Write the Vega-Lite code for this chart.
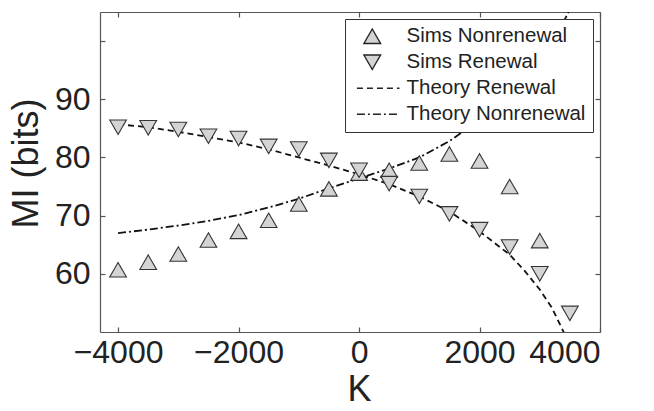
{
  "$schema": "https://vega.github.io/schema/vega-lite/v6.json",
  "width": 500,
  "height": 320,
  "autosize": "none",
  "padding": {"left": 100, "top": 12, "right": 54, "bottom": 79},
  "background": "white",
  "config": {
    "view": {"stroke": null},
    "font": "Liberation Sans",
    "axis": {"grid": false, "domainColor": "#555", "tickColor": "#555", "labelColor": "#222", "titleColor": "#222", "domainWidth": 1.2, "tickWidth": 1.2, "labelFont": "Liberation Sans", "titleFont": "Liberation Sans", "titleFontWeight": "normal"},
    "legend": {"symbolFillColor": "#d4d4d4", "symbolStrokeColor": "#222", "labelLimit": 400}
  },
  "datasets": {
    "sims": [
      {"K": -4000, "MI": 60.7, "series": "Sims Nonrenewal"},
      {"K": -3500, "MI": 62.0, "series": "Sims Nonrenewal"},
      {"K": -3000, "MI": 63.4, "series": "Sims Nonrenewal"},
      {"K": -2500, "MI": 65.8, "series": "Sims Nonrenewal"},
      {"K": -2000, "MI": 67.3, "series": "Sims Nonrenewal"},
      {"K": -1500, "MI": 69.2, "series": "Sims Nonrenewal"},
      {"K": -1000, "MI": 72.0, "series": "Sims Nonrenewal"},
      {"K": -500, "MI": 74.6, "series": "Sims Nonrenewal"},
      {"K": 0, "MI": 77.3, "series": "Sims Nonrenewal"},
      {"K": 500, "MI": 77.8, "series": "Sims Nonrenewal"},
      {"K": 1000, "MI": 79.05, "series": "Sims Nonrenewal"},
      {"K": 1500, "MI": 80.6, "series": "Sims Nonrenewal"},
      {"K": 2000, "MI": 79.4, "series": "Sims Nonrenewal"},
      {"K": 2500, "MI": 75.0, "series": "Sims Nonrenewal"},
      {"K": 3000, "MI": 65.7, "series": "Sims Nonrenewal"},
      {"K": -4000, "MI": 85.2, "series": "Sims Renewal"},
      {"K": -3500, "MI": 85.1, "series": "Sims Renewal"},
      {"K": -3000, "MI": 84.8, "series": "Sims Renewal"},
      {"K": -2500, "MI": 83.65, "series": "Sims Renewal"},
      {"K": -2000, "MI": 83.25, "series": "Sims Renewal"},
      {"K": -1500, "MI": 81.9, "series": "Sims Renewal"},
      {"K": -1000, "MI": 81.45, "series": "Sims Renewal"},
      {"K": -500, "MI": 79.5, "series": "Sims Renewal"},
      {"K": 0, "MI": 77.8, "series": "Sims Renewal"},
      {"K": 500, "MI": 75.5, "series": "Sims Renewal"},
      {"K": 1000, "MI": 73.3, "series": "Sims Renewal"},
      {"K": 1500, "MI": 70.3, "series": "Sims Renewal"},
      {"K": 2000, "MI": 67.6, "series": "Sims Renewal"},
      {"K": 2500, "MI": 64.6, "series": "Sims Renewal"},
      {"K": 3000, "MI": 60.0, "series": "Sims Renewal"},
      {"K": 3500, "MI": 53.2, "series": "Sims Renewal"}
    ],
    "theory": [
      {"K": -4000, "MI": 85.7, "series": "Theory Renewal"},
      {"K": -3500, "MI": 85.2, "series": "Theory Renewal"},
      {"K": -3000, "MI": 84.4, "series": "Theory Renewal"},
      {"K": -2500, "MI": 83.5, "series": "Theory Renewal"},
      {"K": -2000, "MI": 82.6, "series": "Theory Renewal"},
      {"K": -1500, "MI": 81.4, "series": "Theory Renewal"},
      {"K": -1000, "MI": 80.0, "series": "Theory Renewal"},
      {"K": -500, "MI": 78.6, "series": "Theory Renewal"},
      {"K": 0, "MI": 77.1, "series": "Theory Renewal"},
      {"K": 500, "MI": 75.4, "series": "Theory Renewal"},
      {"K": 1000, "MI": 73.3, "series": "Theory Renewal"},
      {"K": 1500, "MI": 70.7, "series": "Theory Renewal"},
      {"K": 2000, "MI": 67.3, "series": "Theory Renewal"},
      {"K": 2500, "MI": 63.3, "series": "Theory Renewal"},
      {"K": 2750, "MI": 60.5, "series": "Theory Renewal"},
      {"K": 3000, "MI": 57.3, "series": "Theory Renewal"},
      {"K": 3200, "MI": 54.2, "series": "Theory Renewal"},
      {"K": 3420, "MI": 49.5, "series": "Theory Renewal"},
      {"K": -4000, "MI": 67.0, "series": "Theory Nonrenewal"},
      {"K": -3500, "MI": 67.6, "series": "Theory Nonrenewal"},
      {"K": -3000, "MI": 68.3, "series": "Theory Nonrenewal"},
      {"K": -2500, "MI": 69.1, "series": "Theory Nonrenewal"},
      {"K": -2000, "MI": 70.1, "series": "Theory Nonrenewal"},
      {"K": -1500, "MI": 71.4, "series": "Theory Nonrenewal"},
      {"K": -1000, "MI": 72.9, "series": "Theory Nonrenewal"},
      {"K": -500, "MI": 74.7, "series": "Theory Nonrenewal"},
      {"K": 0, "MI": 76.4, "series": "Theory Nonrenewal"},
      {"K": 500, "MI": 78.1, "series": "Theory Nonrenewal"},
      {"K": 1000, "MI": 80.0, "series": "Theory Nonrenewal"},
      {"K": 1500, "MI": 82.8, "series": "Theory Nonrenewal"},
      {"K": 1800, "MI": 85.0, "series": "Theory Nonrenewal"},
      {"K": 2000, "MI": 86.6, "series": "Theory Nonrenewal"},
      {"K": 2500, "MI": 90.8, "series": "Theory Nonrenewal"},
      {"K": 3000, "MI": 96.3, "series": "Theory Nonrenewal"},
      {"K": 3250, "MI": 100.2, "series": "Theory Nonrenewal"},
      {"K": 3500, "MI": 105.5, "series": "Theory Nonrenewal"}
    ]
  },
  "layer": [
    {
      "data": {"name": "theory"},
      "mark": {"type": "line", "strokeWidth": 1.8, "color": "#111", "clip": true},
      "encoding": {
        "x": {"field": "K", "type": "quantitative",
          "scale": {"domain": [-4300, 4000], "nice": false, "zero": false},
          "axis": {"orient": "bottom", "values": [-4000, -2000, 0, 2000, 4000], "format": "d", "labelFontSize": 32, "tickSize": -5, "labelPadding": 10, "title": "K", "titleFontSize": 36, "titleX": 259, "titleY": 68, "titleBaseline": "alphabetic", "titleAlign": "center", "titleAnchor": null}},
        "y": {"field": "MI", "type": "quantitative",
          "scale": {"domain": [50, 105], "nice": false, "zero": false},
          "axis": {"orient": "left", "values": [60, 70, 80, 90, 100], "labelExpr": "datum.value == 100 ? '' : datum.label", "labelFontSize": 32, "tickSize": -5, "labelPadding": 15, "title": "MI (bits)", "titleFontSize": 36, "titleAngle": -90, "titleX": -63, "titleY": 151, "titleBaseline": "alphabetic", "titleAlign": "center", "titleAnchor": null}},
        "strokeDash": {"field": "series", "type": "nominal",
          "scale": {"domain": ["Sims Nonrenewal", "Sims Renewal", "Theory Renewal", "Theory Nonrenewal"], "range": [[1, 0], [1, 0], [6, 4], [8, 3, 2, 3]]},
          "legend": {"orient": "none", "legendX": 245, "legendY": 7, "title": null, "fillColor": "white", "strokeColor": "#333", "padding": 7, "labelFont": "Liberation Sans", "labelFontSize": 20.5, "labelColor": "#222", "labelLimit": 400, "symbolOffset": 10, "labelOffset": 24, "rowPadding": 5, "symbolSize": 280, "symbolFillColor": "#d4d4d4", "symbolStrokeColor": "#222", "symbolStrokeWidth": 1.3, "symbolOpacity": 1,
            "encode": {"symbols": {"update": {"fill": {"value": "#d4d4d4"}, "stroke": {"value": "#222"}, "strokeWidth": {"value": 1.3}, "opacity": {"value": 1}}}}}
        }
      }
    },
    {
      "data": {"name": "sims"},
      "mark": {"type": "point", "filled": true, "fill": "#d4d4d4", "stroke": "#333", "strokeWidth": 1.1, "size": 280, "opacity": 1},
      "encoding": {
        "x": {"field": "K", "type": "quantitative",
          "axis": {"orient": "top", "values": [-4000, -2000, 0, 2000, 4000], "labels": false, "tickSize": -5, "title": null}},
        "y": {"field": "MI", "type": "quantitative",
          "axis": {"orient": "right", "values": [60, 70, 80, 90, 100], "labels": false, "tickSize": -5, "title": null}},
        "shape": {"field": "series", "type": "nominal",
          "scale": {"domain": ["Sims Nonrenewal", "Sims Renewal", "Theory Renewal", "Theory Nonrenewal"], "range": ["triangle-up", "triangle-down", "M-1.83,0L3.26,0", "M-1.83,0L3.26,0"]},
          "legend": {"orient": "none", "legendX": 245, "legendY": 7, "title": null, "fillColor": "white", "strokeColor": "#333", "padding": 7, "labelFont": "Liberation Sans", "labelFontSize": 20.5, "labelColor": "#222", "labelLimit": 400, "symbolOffset": 10, "labelOffset": 24, "rowPadding": 5, "symbolSize": 280, "symbolFillColor": "#d4d4d4", "symbolStrokeColor": "#222", "symbolStrokeWidth": 1.3, "symbolOpacity": 1,
            "encode": {"symbols": {"update": {"fill": {"value": "#d4d4d4"}, "stroke": {"value": "#222"}, "strokeWidth": {"value": 1.3}, "opacity": {"value": 1}}}}}},
        "strokeDash": {"field": "series", "type": "nominal"}
      }
    }
  ]
}
